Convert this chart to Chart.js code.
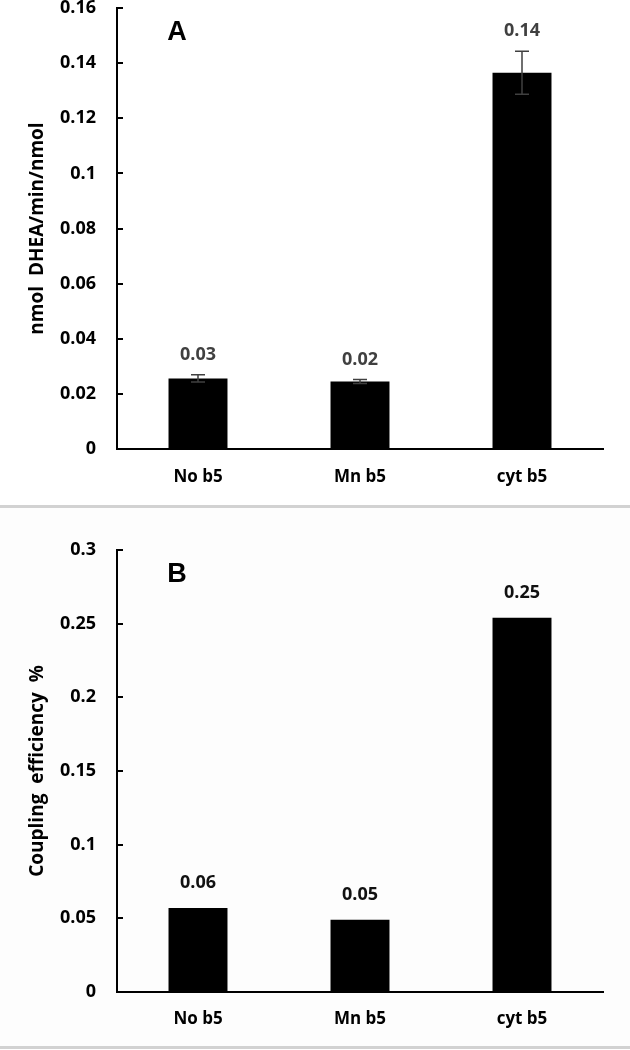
<!DOCTYPE html>
<html>
<head>
<meta charset="utf-8">
<script src="https://cdn.jsdelivr.net/npm/chart.js@4.4.1/dist/chart.umd.min.js"></script>
<style>
  html, body { margin:0; padding:0; background:#fff; }
  body { width:630px; height:1050px; position:relative; overflow:hidden; }
  .panel { position:absolute; left:0; width:630px; }
  .sep { position:absolute; left:0; width:630px; height:3px; background:#d2d2d2; }
</style>
</head>
<body>
<div class="panel" style="top:0;height:505px"><canvas id="chartA" width="630" height="505"></canvas></div>
<div class="sep" style="top:505px"></div>
<div class="panel" style="top:508px;height:538px;background:#fdfdfd"><canvas id="chartB" width="630" height="538"></canvas></div>
<div class="sep" style="top:1046px"></div>

<script>
/* ----------------- Data ----------------- */
const categories = ["No b5", "Mn b5", "cyt b5"];

const valuesA = [0.0256, 0.0245, 0.1365];
const errorsA = [0.0013, 0.0007, 0.0078];
const labelsA = ["0.03", "0.02", "0.14"];
const ticksA  = ["0", "0.02", "0.04", "0.06", "0.08", "0.1", "0.12", "0.14", "0.16"];

const valuesB = [0.057, 0.049, 0.254];
const labelsB = ["0.06", "0.05", "0.25"];
const ticksB  = ["0", "0.05", "0.1", "0.15", "0.2", "0.25", "0.3"];

/* ----------------- Helpers ----------------- */
const FONT = "'Open Sans', sans-serif";

// error bars, value labels, inward y ticks and the panel letter
const decorPlugin = {
  id:'decor',
  afterDatasetsDraw(chart, args, opts) {
    const ctx = chart.ctx, x = chart.scales.x, y = chart.scales.y;
    const vals = chart.data.datasets[0].data;
    ctx.save();
    // inward tick marks
    ctx.strokeStyle = '#000'; ctx.lineWidth = 2;
    y.ticks.forEach(t => {
      const py = Math.round(y.getPixelForValue(t.value));
      ctx.beginPath(); ctx.moveTo(x.left, py); ctx.lineTo(x.left + 6, py); ctx.stroke();
    });
    // error bars
    const errs = opts.errors || [];
    ctx.strokeStyle = '#404040'; ctx.lineWidth = 1.5;
    errs.forEach((e, i) => {
      const px = x.getPixelForValue(i);
      const top = y.getPixelForValue(vals[i] + e), bot = y.getPixelForValue(vals[i] - e);
      ctx.beginPath();
      ctx.moveTo(px, top); ctx.lineTo(px, bot);
      ctx.moveTo(px - 7, top); ctx.lineTo(px + 7, top);
      ctx.moveTo(px - 7, bot); ctx.lineTo(px + 7, bot);
      ctx.stroke();
    });
    // value labels
    ctx.fillStyle = opts.labelColor; ctx.textAlign = 'center'; ctx.textBaseline = 'middle';
    ctx.font = "bold 18px " + FONT;
    opts.labels.forEach((l, i) => {
      const base = y.getPixelForValue(vals[i] + (errs[i] || 0));
      ctx.fillText(l, x.getPixelForValue(i), base - opts.labelGap);
    });
    // panel letter
    ctx.fillStyle = '#000'; ctx.font = "bold 27px 'Liberation Sans', Arial, sans-serif";
    ctx.fillText(opts.letter, 177, opts.letterY);
    ctx.restore();
  }
};

function makeChart(id, values, tickLabels, max, step, title, opt) {
  return new Chart(document.getElementById(id), {
    type:'bar',
    data:{ labels:categories, datasets:[{ data:values, backgroundColor:'#000', barPercentage:0.364, categoryPercentage:1 }] },
    plugins:[decorPlugin],
    options:{
      responsive:false, animation:false,
      layout:{ padding:{ top:opt.padTop, right:27, left:0, bottom:0 } },
      plugins:{ legend:{ display:false }, tooltip:{ enabled:false }, decor:opt.decor },
      scales:{
        x:{
          grid:{ display:true, drawOnChartArea:false, drawTicks:true, tickLength:opt.xPad, tickColor:'rgba(0,0,0,0)' },
          border:{ display:true, color:'#000', width:2 },
          ticks:{ color:'#000', font:{ family:FONT, size:17, weight:'bold' }, padding:0 },
          afterFit(s){ s.height = opt.xHeight; }
        },
        y:{
          min:0, max:max,
          grid:{ display:true, drawOnChartArea:false, drawTicks:true, tickLength:21, tickColor:'rgba(0,0,0,0)' },
          border:{ display:true, color:'#000', width:2 },
          ticks:{ stepSize:step, color:'#000', font:{ family:FONT, size:18, weight:'bold' }, padding:0,
                  callback:(v, i) => tickLabels[i] },
          title:{ display:true, text:title, color:'#000', padding:{ top:26 },
                  font:{ family:FONT, size:19, weight:'bold' } },
          afterFit(s){ s.width = 117; s.paddingTop = 0; }
        }
      }
    }
  });
}

makeChart('chartA', valuesA, ticksA, 0.16, 0.02, 'nmol  DHEA/min/nmol', {
  padTop:8, xHeight:56, xPad:18,
  decor:{ errors:errorsA, labels:labelsA, labelColor:'#404040', labelGap:20, letter:'A', letterY:33 }
});
makeChart('chartB', valuesB, ticksB, 0.3, 0.05, 'Coupling  efficiency  %', {
  padTop:42, xHeight:54, xPad:17,
  decor:{ errors:[], labels:labelsB, labelColor:'#111', labelGap:25, letter:'B', letterY:67 }
});
</script>
</body>
</html>
